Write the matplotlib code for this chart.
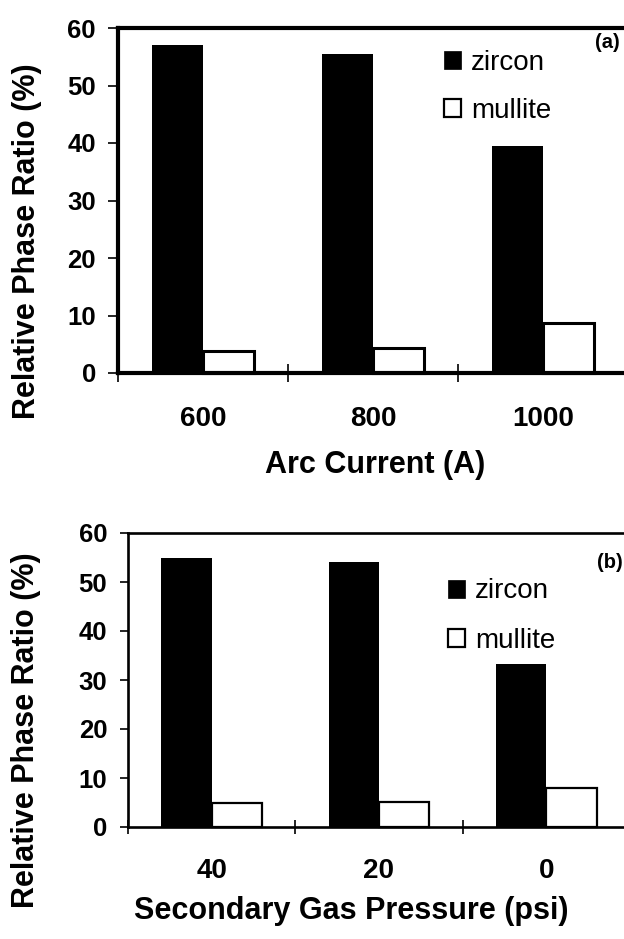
import matplotlib
matplotlib.use("Agg")
import matplotlib.pyplot as plt
from matplotlib.patches import Patch
import numpy as np

plt.rcParams['font.family'] = ['Liberation Sans', 'DejaVu Sans']

# ---- data ----
arc_labels = ["600", "800", "1000"]
arc_zircon = [57.1, 55.4, 39.4]
arc_mullite = [3.8, 4.3, 8.7]

gas_labels = ["40", "20", "0"]
gas_zircon = [54.9, 54.0, 33.3]
gas_mullite = [4.8, 5.2, 7.9]

series_names = ["zircon", "mullite"]
y_ticks = [0, 10, 20, 30, 40, 50, 60]

W, H = 624, 939
fig = plt.figure(figsize=(W / 100, H / 100), dpi=100)


def px_axes(left, top, right, bottom):
    return [left / W, 1 - bottom / H, (right - left) / W, (bottom - top) / H]


def panel(rect, cats, zir, mul, xlabel, tag, spine_lw, edge_lw,
          xlab_xy, ylab_xy, legend_xy, tag_xy, ytick_len, xtick_len, xpad, lspace):
    ax = fig.add_axes(rect)
    x = np.arange(len(cats))
    bw = 0.3
    ax.bar(x - bw / 2, zir, width=bw, color='black', edgecolor='black', linewidth=0)
    ax.bar(x + bw / 2, mul, width=bw, color='white', edgecolor='black',
           linewidth=edge_lw, clip_on=False)
    ax.set_xlim(-0.5, len(cats) - 0.5)
    ax.set_ylim(0, 60)
    ax.set_yticks(y_ticks)
    ax.set_yticklabels([str(v) for v in y_ticks], fontsize=18.5, fontweight='bold')
    ax.set_xticks(x)
    ax.set_xticklabels(cats, fontsize=20, fontweight='bold')
    ax.set_xticks(np.arange(len(cats)) - 0.5, minor=True)
    ax.tick_params(axis='x', which='major', length=0, pad=xpad)
    ax.tick_params(axis='x', which='minor', direction='inout', length=xtick_len,
                   width=1.2)
    ax.tick_params(axis='y', which='major', direction='out', length=ytick_len,
                   width=1.2, pad=9)
    for s in ['left', 'top', 'bottom']:
        ax.spines[s].set_linewidth(spine_lw)
    ax.spines['right'].set_visible(False)
    ax.set_xlabel(xlabel, fontsize=22, fontweight='bold', va='center', ha='center')
    ax.set_ylabel("Relative Phase Ratio (%)", fontsize=22, fontweight='bold',
                  va='center', ha='center')
    ax.xaxis.set_label_coords(*xlab_xy)
    ax.yaxis.set_label_coords(*ylab_xy)
    handles = [Patch(facecolor='black', edgecolor='black', linewidth=0.5, label=series_names[0]),
               Patch(facecolor='white', edgecolor='black', linewidth=1.6, label=series_names[1])]
    ax.legend(handles=handles, loc='center left',
              bbox_to_anchor=(legend_xy[0] / W, 1 - legend_xy[1] / H),
              bbox_transform=fig.transFigure, frameon=False, fontsize=20,
              handlelength=0.62, handleheight=0.62, handletextpad=0.35,
              labelspacing=lspace, borderpad=0, borderaxespad=0)
    fig.text(tag_xy[0] / W, 1 - tag_xy[1] / H, tag, fontsize=14.5,
             fontweight='bold', ha='center', va='center')
    return ax


panel(px_axes(118, 28, 628, 373), arc_labels, arc_zircon, arc_mullite,
      "Arc Current (A)", "(a)", 3.0, 2.2,
      ((375 - 118) / 510, (373 - 465) / 345),
      ((27 - 118) / 510, (373 - 241) / 345),
      (444, 87), (607, 43), 7, 13, 24, 0.78)

panel(px_axes(128, 533, 630, 827), gas_labels, gas_zircon, gas_mullite,
      "Secondary Gas Pressure (psi)", "(b)", 1.9, 1.6,
      ((351 - 128) / 502, (827 - 911) / 294),
      ((26 - 128) / 502, (827 - 730) / 294),
      (448, 616), (610, 563), 6, 10, 22, 0.84)

fig.savefig("out.png", dpi=100)
